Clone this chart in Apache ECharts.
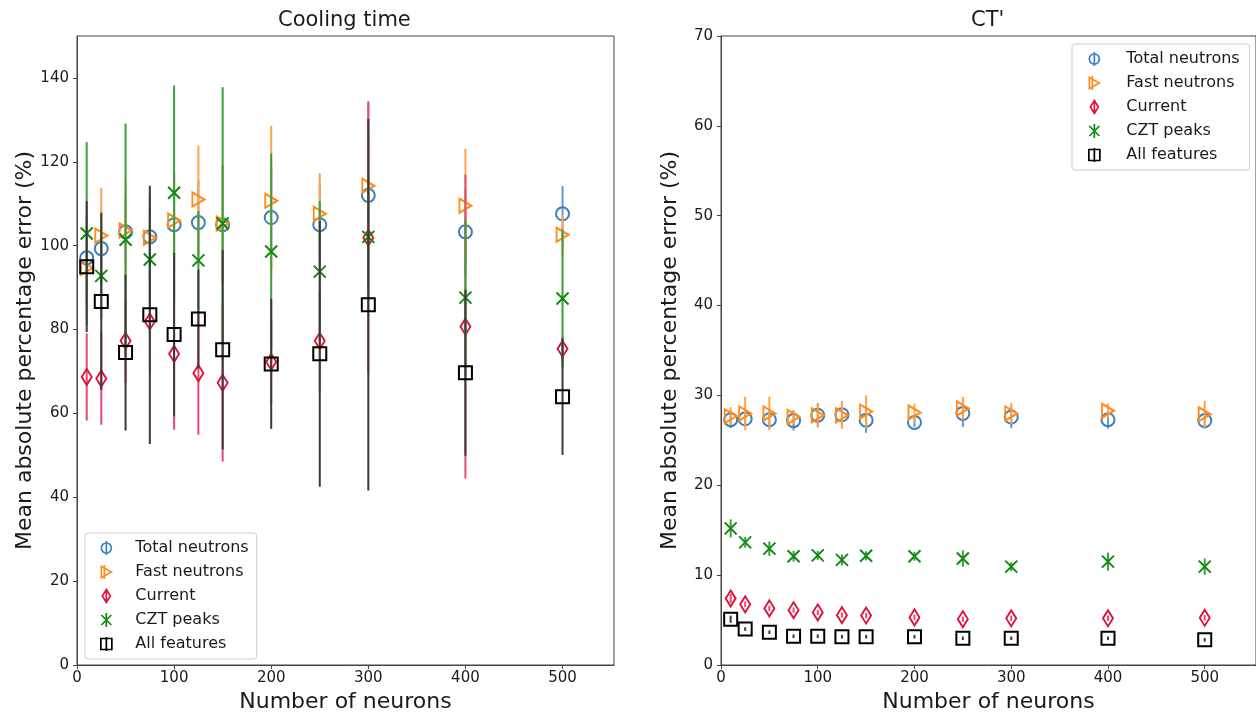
<!DOCTYPE html>
<html><head><meta charset="utf-8">
<script src="https://cdn.jsdelivr.net/npm/echarts@6/dist/echarts.min.js"></script>
<style>html,body{margin:0;padding:0;background:#fff}#c{width:1256px;height:718px}</style>
</head><body><div id="c"></div>
<script>
// ---------- data ----------
const neurons = [10, 25, 50, 75, 100, 125, 150, 200, 250, 300, 400, 500];
const seriesNames = ['Total neutrons', 'Fast neutrons', 'Current', 'CZT peaks', 'All features'];
const xTicks = [0, 100, 200, 300, 400, 500];
const yTicksCooling = [0, 20, 40, 60, 80, 100, 120, 140];
const yTicksCT = [0, 10, 20, 30, 40, 50, 60, 70];

// Cooling time panel (values, error half-widths)
const coolTotal    = [97.1, 99.3, 103.3, 102.1, 105.0, 105.5, 105.0, 106.7, 105.0, 112.0, 103.3, 107.6];
const coolTotalErr = [10, 9, 8, 10, 12, 10, 14, 12, 10, 22.5, 10, 6.6];
const coolFast     = [94.7, 102.4, 103.6, 101.9, 106.0, 111.0, 105.3, 110.7, 107.6, 114.3, 109.5, 102.6];
const coolFastErr  = [12, 11.4, 12, 10, 12, 12.9, 14, 17.9, 9.7, 12, 13.6, 5];
const coolCurrent    = [68.7, 68.3, 77.3, 81.9, 74.2, 69.6, 67.3, 72.3, 77.3, 101.9, 80.7, 75.4];
const coolCurrentErr = [10.4, 11, 10, 12, 18.1, 14.7, 18.8, 10, 12, 32.2, 36.2, 3];
const coolCzt    = [102.9, 92.8, 101.4, 96.7, 112.6, 96.5, 105.3, 98.6, 93.8, 102.1, 87.6, 87.4];
const coolCztErr = [21.8, 10, 27.7, 12, 25.6, 11.7, 32.5, 23.4, 16.8, 15, 18.6, 16.4];
const coolAll    = [95.0, 86.7, 74.5, 83.5, 78.8, 82.5, 75.2, 71.8, 74.2, 85.9, 69.7, 64.0];
const coolAllErr = [15.6, 21.1, 18.6, 30.8, 19.5, 11.8, 23.8, 15.5, 31.7, 44.3, 19.8, 13.9];

// CT' panel
const ctTotal    = [27.3, 27.4, 27.3, 27.2, 27.8, 27.85, 27.25, 27.0, 28.0, 27.6, 27.3, 27.2];
const ctTotalErr = [0.95, 0.8, 1.0, 1.1, 1.35, 1.5, 1.4, 0.5, 1.5, 1.25, 1.0, 0.9];
const ctFast     = [27.7, 28.0, 28.0, 27.6, 27.8, 27.8, 28.2, 28.1, 28.55, 28.0, 28.3, 27.9];
const ctFastErr  = [1.0, 1.85, 1.85, 0.8, 1.3, 1.5, 1.8, 1.0, 1.3, 1.2, 0.8, 1.5];
const ctCurrent    = [7.4, 6.75, 6.3, 6.1, 5.85, 5.55, 5.5, 5.3, 5.1, 5.2, 5.2, 5.25];
const ctCurrentErr = [0.5, 0.3, 0.3, 0.3, 0.3, 0.3, 0.3, 0.3, 0.3, 0.3, 0.3, 0.3];
const ctCzt    = [15.2, 13.65, 12.95, 12.1, 12.2, 11.7, 12.15, 12.1, 11.85, 10.95, 11.5, 10.95];
const ctCztErr = [1.0, 0.6, 0.8, 0.6, 0.5, 0.6, 0.5, 0.5, 0.9, 0.5, 1.0, 0.9];
const ctAll    = [5.1, 4.0, 3.65, 3.2, 3.2, 3.15, 3.15, 3.15, 2.97, 2.97, 2.97, 2.8];
const ctAllErr = [0.4, 0.2, 0.2, 0.2, 0.2, 0.2, 0.2, 0.2, 0.2, 0.2, 0.2, 0.2];

// ---------- styling ----------
const FONT = 'DejaVu Sans';
const TXT = '#1a1a1a';
const AX = '#444';
const colors = ['#3b7fc0', '#ff8c1a', '#dc143c', '#108a10', '#000000'];
const barColors = ['#5f97cf', '#ffa448', '#e64a6c', '#3c9f3c', '#3a3a3a'];
const markerSymbols = [
  'circle',
  'path://M0,0 L2,1 L0,2 Z',
  'path://M3,0 L6,6 L3,12 L0,6 Z',
  'path://M0,0 L1,1 M1,0 L0,1',
  'rect'
];
const markerSizes = [13, [12, 14], [10, 16], [12, 12], 13];
const legendIcons = [
  'path://M7,0 L7,14 M2,7 A5,5 0 1,1 12,7 A5,5 0 1,1 2,7 Z',
  'path://M5,0 L5,14 M2,1.5 L12,7 L2,12.5 Z',
  'path://M7,0 L7,14 M7,0.5 L11,7 L7,13.5 L3,7 Z',
  'path://M7,0 L7,14 M2,2 L12,12 M12,2 L2,12',
  'path://M7,0 L7,14 M1.5,1.5 L12.5,1.5 L12.5,12.5 L1.5,12.5 Z'
];

const panels = [
  { vals: [coolTotal, coolFast, coolCurrent, coolCzt, coolAll],
    errs: [coolTotalErr, coolFastErr, coolCurrentErr, coolCztErr, coolAllErr] },
  { vals: [ctTotal, ctFast, ctCurrent, ctCzt, ctAll],
    errs: [ctTotalErr, ctFastErr, ctCurrentErr, ctCztErr, ctAllErr] }
];

const series = [];
panels.forEach(function (panel, p) {
  seriesNames.forEach(function (name, g) {
    const color = colors[g];
    const barColor = barColors[g];
    const barData = neurons.map(function (x, i) { return [x, panel.vals[g][i], panel.errs[g][i]]; });
    const ptData = neurons.map(function (x, i) { return [x, panel.vals[g][i]]; });
    series.push({
      type: 'custom', name: name, xAxisIndex: p, yAxisIndex: p,
      z: 2 + g * 2, silent: true,
      encode: { x: 0, y: 1 },
      data: barData,
      renderItem: function (params, api) {
        const x = api.value(0), y = api.value(1), e = api.value(2);
        const a = api.coord([x, y - e]);
        const b = api.coord([x, y + e]);
        return { type: 'line', shape: { x1: a[0], y1: a[1], x2: b[0], y2: b[1] },
                 style: { stroke: barColor, lineWidth: 2 } };
      }
    });
    series.push({
      type: 'scatter', name: name, xAxisIndex: p, yAxisIndex: p,
      z: 3 + g * 2, silent: true,
      symbol: markerSymbols[g], symbolSize: markerSizes[g],
      itemStyle: { color: 'rgba(0,0,0,0)', borderColor: color, borderWidth: 2, opacity: 1 },
      data: ptData
    });
  });
});

function legendData() {
  return seriesNames.map(function (n, g) {
    return { name: n, icon: legendIcons[g],
             itemStyle: { color: 'rgba(0,0,0,0)', borderColor: colors[g], borderWidth: 1.7 } };
  });
}

function xAxisCfg(grid) {
  return {
    gridIndex: grid, type: 'value', min: 0, max: 553, interval: 100,
    name: 'Number of neurons', nameLocation: 'middle', nameGap: 26,
    nameTextStyle: { fontFamily: FONT, fontSize: 22, color: TXT },
    axisLine: { show: true, lineStyle: { color: AX, width: 1 } },
    axisTick: { show: true, length: 4, customValues: xTicks, lineStyle: { color: AX } },
    axisLabel: { customValues: xTicks, fontFamily: FONT, fontSize: 15, color: TXT, margin: 6 },
    splitLine: { show: false }
  };
}
function yAxisCfg(grid, max, interval, ticks) {
  return {
    gridIndex: grid, type: 'value', min: 0, max: max, interval: interval,
    name: 'Mean absolute percentage error (%)', nameLocation: 'middle', nameGap: 40,
    nameTextStyle: { fontFamily: FONT, fontSize: 22, color: TXT },
    axisLine: { show: true, lineStyle: { color: AX, width: 1 } },
    axisTick: { show: true, length: 4, customValues: ticks, lineStyle: { color: AX } },
    axisLabel: { customValues: ticks, fontFamily: FONT, fontSize: 15, color: TXT, margin: 8 },
    splitLine: { show: false }
  };
}

const option = {
  animation: false,
  backgroundColor: '#ffffff',
  title: [
    { text: 'Cooling time', left: 278, top: 10, padding: 0,
      textStyle: { fontFamily: FONT, fontSize: 21, fontWeight: 'normal', color: TXT } },
    { text: "CT'", left: 971, top: 10, padding: 0,
      textStyle: { fontFamily: FONT, fontSize: 21, fontWeight: 'normal', color: TXT } }
  ],
  grid: [
    { left: 77, top: 36, width: 537, height: 630, show: true, borderColor: AX, borderWidth: 1, backgroundColor: 'transparent' },
    { left: 721, top: 36, width: 537, height: 630, show: true, borderColor: AX, borderWidth: 1, backgroundColor: 'transparent' }
  ],
  xAxis: [xAxisCfg(0), xAxisCfg(1)],
  yAxis: [yAxisCfg(0, 150, 20, yTicksCooling), yAxisCfg(1, 70, 10, yTicksCT)],
  legend: [
    { orient: 'vertical', left: 85, top: 533, selectedMode: false,
      padding: [7, 8, 7, 15], itemWidth: 14, itemHeight: 14, itemGap: 8,
      backgroundColor: '#fff', borderColor: '#cccccc', borderWidth: 1, borderRadius: 3,
      textStyle: { fontFamily: FONT, fontSize: 16, color: TXT, lineHeight: 16, padding: [0, 0, 0, 17] },
      data: legendData() },
    { orient: 'vertical', left: 1072, top: 44, selectedMode: false,
      padding: [7, 10, 7, 16], itemWidth: 14, itemHeight: 14, itemGap: 8,
      backgroundColor: '#fff', borderColor: '#cccccc', borderWidth: 1, borderRadius: 3,
      textStyle: { fontFamily: FONT, fontSize: 16, color: TXT, lineHeight: 16, padding: [0, 0, 0, 20] },
      data: legendData() }
  ],
  series: series
};

const chart = echarts.init(document.getElementById('c'), null, { renderer: 'canvas' });
chart.setOption(option);
</script>
</body></html>
